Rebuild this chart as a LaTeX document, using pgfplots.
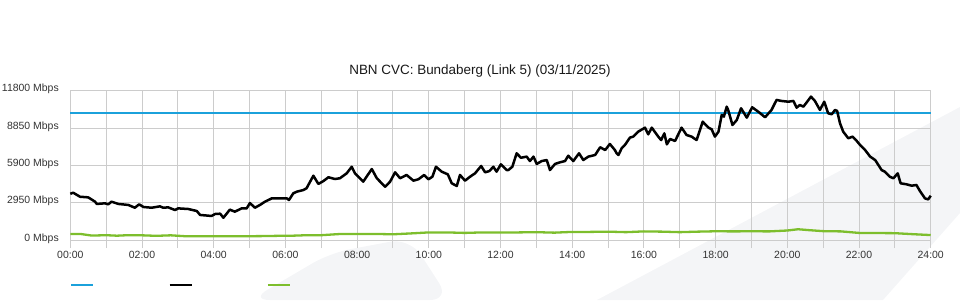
\documentclass[border=0pt]{standalone}
\usepackage{fontspec}
\setmainfont{Liberation Sans}
\usepackage{pgfplots}
\usepackage{pgfplotstable}
\pgfplotsset{compat=1.18}
\definecolor{cblue}{HTML}{1BA1DB}
\definecolor{cgreen}{HTML}{7DBE2D}
\definecolor{gridlight}{HTML}{CCCCCC}
\definecolor{griddark}{HTML}{B8B8B8}
\definecolor{wm}{HTML}{F4F5F7}
\definecolor{lbl}{HTML}{333333}

\pgfplotstableread{
h v
0 3650
0.08 3740
0.27 3420
0.50 3370
0.69 3030
0.74 2850
0.97 2900
1.06 2820
1.15 3030
1.34 2850
1.62 2770
1.80 2550
1.92 2820
2.04 2610
2.27 2550
2.50 2660
2.59 2550
2.73 2580
2.92 2370
3.01 2500
3.29 2450
3.53 2290
3.62 1980
3.94 1900
4.04 2055
4.18 2080
4.27 1760
4.45 2400
4.59 2240
4.78 2500
4.92 2500
5.01 2920
5.15 2550
5.29 2770
5.43 3030
5.62 3290
6.04 3290
6.10 3160
6.22 3690
6.32 3820
6.50 3950
6.59 4090
6.78 5080
6.92 4430
7.06 4660
7.20 4960
7.38 4820
7.52 4880
7.71 5270
7.85 5790
7.94 5270
8.17 4610
8.41 5610
8.55 4880
8.78 4210
8.92 4610
9.06 5350
9.20 4880
9.38 5140
9.57 4690
9.71 4800
9.87 5140
9.99 4800
10.10 5000
10.20 5790
10.36 5400
10.53 5190
10.64 4480
10.78 4270
10.87 5140
11.01 4690
11.15 5000
11.29 5270
11.46 5850
11.57 5350
11.69 5450
11.80 5790
11.89 5400
12.01 5980
12.17 5530
12.22 5530
12.33 5790
12.45 6850
12.57 6500
12.73 6590
12.82 6240
12.92 6590
13.01 6010
13.15 6240
13.29 6320
13.38 5530
13.52 6010
13.66 6140
13.80 6240
13.89 6660
14.03 6240
14.19 6850
14.31 6320
14.45 6590
14.64 6720
14.78 7330
14.92 7110
15.05 7590
15.19 7110
15.24 6850
15.29 6720
15.38 7250
15.47 7510
15.61 8090
15.70 8170
15.84 8560
16.03 8880
16.12 8350
16.22 8880
16.40 8170
16.48 7900
16.57 8430
16.64 7560
16.73 7980
16.87 7830
17.05 8880
17.19 8300
17.33 8170
17.47 7900
17.64 9350
17.80 8880
17.89 8750
17.98 8170
18.08 8560
18.17 9880
18.23 9750
18.31 10540
18.35 10280
18.47 9090
18.59 9480
18.71 10410
18.87 9670
19.02 10490
19.19 10140
19.38 9700
19.56 10280
19.70 11070
19.84 10990
20.03 10930
20.17 10990
20.26 10460
20.35 10670
20.45 10540
20.66 11330
20.77 10990
20.91 10280
21.03 10930
21.14 10010
21.24 9940
21.33 10280
21.39 10200
21.47 9220
21.56 8560
21.70 8040
21.82 8170
21.93 7850
22.03 7510
22.17 7110
22.31 6590
22.45 6320
22.54 5930
22.63 5530
22.72 5400
22.86 5000
22.96 4880
23.08 5270
23.16 4480
23.33 4400
23.47 4290
23.60 4350
23.70 3870
23.84 3290
23.93 3210
24.00 3500
}\traffic

\pgfplotstableread{
h v
0 480
0.3 470
0.6 350
1.0 380
1.3 340
1.6 380
2.0 370
2.4 330
2.8 370
3.2 300
3.6 290
4.0 290
4.5 290
5.0 300
5.4 310
5.8 330
6.2 340
6.6 380
7.0 380
7.5 470
8.0 470
8.5 480
9.0 450
9.5 520
10.0 600
10.5 600
11.0 560
11.5 600
12.0 590
12.5 600
13.0 620
13.5 580
14.0 640
14.5 640
15.0 660
15.5 620
16.0 680
16.5 660
17.0 620
17.5 660
18.0 690
18.5 680
19.0 690
19.5 680
20.0 750
20.3 850
20.6 780
21.0 700
21.5 680
22.0 560
22.5 550
23.0 540
23.5 460
24.0 390
}\upload

\pgfplotstableread{
h v
0 10000
24 10000
}\capacity

\begin{document}
\begin{tikzpicture}[x=1bp,y=1bp]
\path[use as bounding box] (0,0) rectangle (960,300);
\fill[wm] (597,0) -- (960,193) -- (960,87) -- (883,0) -- cycle;
\fill[wm, rounded corners=20bp] (250,0) -- (330,47) -- (410,62) -- (450,0) -- cycle;
\node[font=\fontsize{13.5}{16}\selectfont, text=black!90] at (480,229) {NBN CVC: Bundaberg (Link 5) (03/11/2025)};
\begin{axis}[
  at={(70.3bp,60bp)}, anchor=south west,
  scale only axis, width=860.4bp, height=149.3bp,
  xmin=0, xmax=24, ymin=0, ymax=11800,
  scaled y ticks=false, scaled x ticks=false,
  xtick={0,1,...,24},
  xticklabels={00:00,,02:00,,04:00,,06:00,,08:00,,10:00,,12:00,,14:00,,16:00,,18:00,,20:00,,22:00,,24:00},
  ytick={0,2950,5900,8850,11800},
  yticklabels={0 Mbps,2950 Mbps,5900 Mbps,8850 Mbps,11800 Mbps},
  extra y ticks={2950,8850}, extra y tick labels={},
  extra y tick style={grid style={griddark, line width=2bp}, tick style={draw=none}},
  extra x ticks={3,9,15,21}, extra x tick labels={},
  extra x tick style={grid style={griddark, line width=2bp}, tick style={draw=none}},
  grid=major, major grid style={gridlight, line width=1bp},
  axis line style={draw=none},
  tick align=outside, major tick length=8bp,
  xtick pos=bottom, ytick pos=left,
  x tick style={gridlight, line width=1bp},
  y tick style={draw=none},
  ticklabel style={font=\fontsize{10.5}{12}\selectfont, text=lbl},
  yticklabel style={yshift=1.5bp},
  legend style={at={(0,-0.3)}, anchor=west, draw=none, fill=none,
    inner sep=0pt, outer sep=0pt, nodes={inner sep=0pt, outer sep=0pt},
    /tikz/every even column/.style={column sep=0pt}},
  legend columns=3,
  legend image code/.code={\draw[#1] (0bp,0bp) -- (22bp,0bp);},
  clip=false,
]
\addplot[cblue, line width=2bp] table[x=h,y=v] {\capacity};
\addlegendentry{\hspace*{74bp}}
\addplot[black, line width=2.5bp, line join=round] table[x=h,y=v] {\traffic};
\addlegendentry{\hspace*{74bp}}
\addplot[cgreen, line width=2.3bp, line join=round] table[x=h,y=v] {\upload};
\addlegendentry{\hspace*{74bp}}
\end{axis}
\end{tikzpicture}
\end{document}
